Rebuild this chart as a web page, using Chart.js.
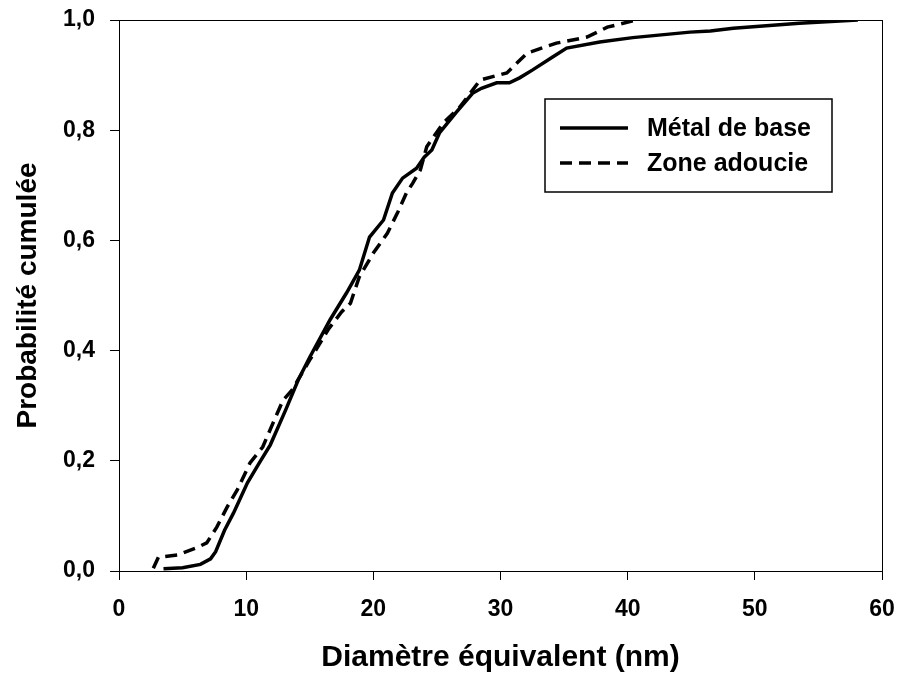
<!DOCTYPE html>
<html>
<head>
<meta charset="utf-8">
<script src="https://cdn.jsdelivr.net/npm/chart.js@4"></script>
<style>
  html, body { margin: 0; padding: 0; background: #fff; }
</style>
</head>
<body>
<canvas id="chart" width="901" height="679"></canvas>
<script>
const metalX = [3.5, 5.0, 6.4, 7.2, 7.6, 8.3, 9.0, 10.1, 11.0, 11.9, 13.1, 14.1, 15.0, 16.6, 17.9, 18.9, 19.7, 20.8, 21.5, 22.3, 23.4, 24.0, 24.6, 25.2, 26.5, 27.8, 28.5, 29.7, 30.7, 31.5, 32.5, 34.1, 35.2, 37.8, 40.4, 44.9, 46.5, 48.3, 53.5, 58.1];
const metalY = [0.004, 0.006, 0.012, 0.022, 0.035, 0.074, 0.105, 0.160, 0.195, 0.229, 0.292, 0.347, 0.388, 0.456, 0.505, 0.546, 0.606, 0.637, 0.686, 0.713, 0.731, 0.751, 0.764, 0.795, 0.832, 0.867, 0.876, 0.886, 0.886, 0.895, 0.909, 0.933, 0.949, 0.960, 0.968, 0.978, 0.980, 0.985, 0.994, 1.0];

const zoneX = [2.7, 3.1, 4.6, 6.1, 6.9, 7.7, 8.5, 9.3, 10.3, 11.3, 12.1, 12.9, 13.6, 15.0, 16.5, 17.5, 18.2, 18.9, 20.0, 21.1, 21.9, 22.6, 23.1, 23.7, 24.2, 25.5, 26.8, 28.4, 30.5, 32.1, 34.4, 36.8, 38.4, 40.7];
const zoneY = [0.005, 0.025, 0.029, 0.042, 0.051, 0.080, 0.116, 0.147, 0.196, 0.225, 0.268, 0.310, 0.328, 0.383, 0.440, 0.470, 0.486, 0.534, 0.577, 0.613, 0.650, 0.686, 0.704, 0.728, 0.770, 0.813, 0.842, 0.891, 0.904, 0.940, 0.958, 0.969, 0.987, 1.0];

const seriesNames = ["Métal de base", "Zone adoucie"];
const xTicks = [0, 10, 20, 30, 40, 50, 60];
const yTicks = ["0,0", "0,2", "0,4", "0,6", "0,8", "1,0"];

const FONT = "'Liberation Sans', Arial, sans-serif";

function toPoints(xs, ys) {
  return xs.map((x, i) => ({ x: x, y: ys[i] }));
}

// frame around the plot area (top and right sides)
const framePlugin = {
  id: "frame",
  afterDraw(chart) {
    const { ctx, chartArea } = chart;
    ctx.save();
    ctx.strokeStyle = "#000";
    ctx.lineWidth = 1;
    ctx.strokeRect(chartArea.left + 0.5, chartArea.top + 0.5,
      chartArea.right - chartArea.left, chartArea.bottom - chartArea.top);
    ctx.restore();
  },
};

// boxed legend inside the plot
const legendBox = {
  id: "legendBox",
  afterDraw(chart) {
    const ctx = chart.ctx;
    const left = 545, top = 99, width = 287, height = 93;
    ctx.save();
    ctx.fillStyle = "#fff";
    ctx.fillRect(left, top, width, height);
    ctx.strokeStyle = "#000";
    ctx.lineWidth = 1.5;
    ctx.strokeRect(left, top, width, height);

    chart.data.datasets.forEach((ds, i) => {
      const y = 128 + i * 35;
      ctx.beginPath();
      ctx.setLineDash(ds.borderDash || []);
      ctx.lineWidth = ds.borderWidth;
      ctx.strokeStyle = ds.borderColor;
      ctx.moveTo(560, y);
      ctx.lineTo(628, y);
      ctx.stroke();
      ctx.setLineDash([]);
      ctx.fillStyle = "#000";
      ctx.font = "bold 25px " + FONT;
      ctx.textBaseline = "middle";
      ctx.textAlign = "left";
      ctx.fillText(ds.label, 647, y + 1);
    });
    ctx.restore();
  },
};

new Chart(document.getElementById("chart"), {
  type: "scatter",
  data: {
    datasets: [
      {
        label: seriesNames[0],
        data: toPoints(metalX, metalY),
        showLine: true,
        borderColor: "#000",
        borderWidth: 3.5,
        pointRadius: 0,
        tension: 0,
      },
      {
        label: seriesNames[1],
        data: toPoints(zoneX, zoneY),
        showLine: true,
        borderColor: "#000",
        borderWidth: 3.5,
        borderDash: [12, 7],
        pointRadius: 0,
        tension: 0,
      },
    ],
  },
  options: {
    responsive: false,
    animation: false,
    layout: {
      padding: { left: 0, right: 19, top: 20, bottom: 0 },
    },
    plugins: {
      legend: { display: false },
      tooltip: { enabled: false },
    },
    scales: {
      x: {
        type: "linear",
        min: 0,
        max: 60,
        afterFit: (scale) => {
          scale.height = 108;
          scale.paddingLeft = 0;
          scale.paddingRight = 0;
        },
        afterBuildTicks: (scale) => {
          scale.ticks = xTicks.map((v) => ({ value: v }));
        },
        grid: {
          drawOnChartArea: false,
          drawTicks: true,
          tickLength: 9,
          color: "#000",
        },
        border: { color: "#000", width: 1 },
        ticks: {
          color: "#000",
          padding: 16,
          maxRotation: 0,
          font: { family: FONT, size: 23, weight: "bold" },
        },
        title: {
          display: true,
          text: "Diamètre équivalent (nm)",
          color: "#000",
          padding: { top: 0, bottom: 3 },
          font: { family: FONT, size: 30, weight: "bold" },
        },
      },
      y: {
        type: "linear",
        min: 0,
        max: 1,
        afterFit: (scale) => {
          scale.width = 119;
          scale.paddingTop = 0;
          scale.paddingBottom = 0;
        },
        afterBuildTicks: (scale) => {
          scale.ticks = yTicks.map((t, i) => ({ value: i * 0.2 }));
        },
        grid: {
          drawOnChartArea: false,
          drawTicks: true,
          tickLength: 9,
          color: "#000",
        },
        border: { color: "#000", width: 1 },
        ticks: {
          color: "#000",
          padding: 15,
          callback: (value, index) => yTicks[index],
          font: { family: FONT, size: 23, weight: "bold" },
        },
        title: {
          display: true,
          text: "Probabilité cumulée",
          color: "#000",
          padding: { top: 11, bottom: 0 },
          font: { family: FONT, size: 28, weight: "bold" },
        },
      },
    },
  },
  plugins: [framePlugin, legendBox],
});
</script>
</body>
</html>
